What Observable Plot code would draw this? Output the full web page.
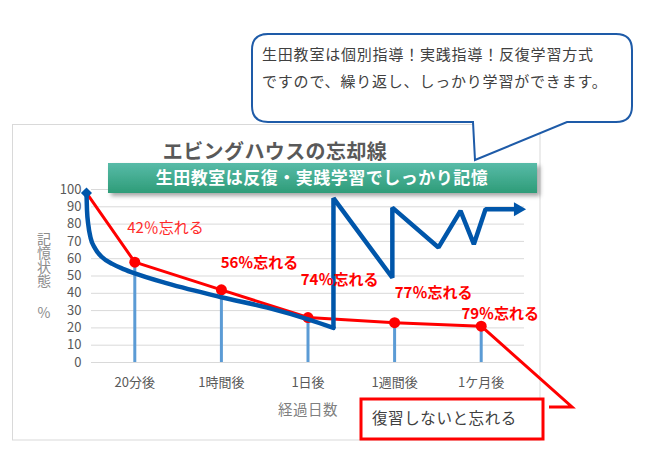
<!DOCTYPE html>
<html><head><meta charset="utf-8">
<script src="https://cdn.jsdelivr.net/npm/d3@7"></script>
<script src="https://cdn.jsdelivr.net/npm/@observablehq/plot@0.6"></script>
<style>body{margin:0;background:#fff;} #chart svg{display:block}</style>
</head><body><div id="chart"></div>
<script>
// ---- data ----
const categories = ["20分後", "1時間後", "1日後", "1週間後", "1ケ月後"];
const categoryX = [1, 2, 3, 4, 5];
const retention = [58, 42, 26, 23, 21];
const startX = 0.442, startValue = 98;
const forgetLabels = ["42％忘れる", "56％忘れる", "74％忘れる", "77％忘れる", "79％忘れる"];
const labelX = [1.354, 2.44, 3.364, 4.45, 5.22];
const labelY = [77.8, 57.6, 47.3, 39.8, 28.2];
const labelBold = [false, true, true, true, true];
// natural forgetting curve (blue)
const curveX = [0.442, 0.448, 0.462, 0.49, 0.54, 0.62, 0.74, 0.87, 1.0, 1.374, 2.011, 2.531, 3.011, 3.294];
const curveY = [98, 88, 80, 72, 66, 61, 57, 54, 51.5, 45.7, 37.6, 31.7, 24.8, 20];
// repeated review zigzag (blue)
const reviewX = [3.294, 3.294, 3.974, 3.974, 4.507, 4.761, 4.915, 5.05, 5.40];
const reviewY = [20, 95, 49, 89.5, 66.5, 87.6, 68.4, 88.6, 88.6];
const arrowX = 5.425, arrowY = 88.6;
const yTicks = d3.range(0, 101, 10);

const titleText = "エビングハウスの忘却線";
const bannerText = "生田教室は反復・実践学習でしっかり記憶";
const calloutLines = ["生田教室は個別指導！実践指導！反復学習方式", "ですので、繰り返し、しっかり学習ができます。"];
const yLabelText = "記憶状態";
const yLabelUnit = "%";
const xLabelText = "経過日数";
const noReviewText = "復習しないと忘れる";

// ---- styles ----
const font = "'Noto Sans CJK JP', 'Noto Sans', sans-serif";
const blue = "#0056AA";
const red = "#FF0000";

const redData = [{x: startX, y: startValue}, ...categoryX.map((x, i) => ({x, y: retention[i]}))];
const pointData = categoryX.map((x, i) => ({x, y: retention[i]}));
const curveData = curveX.map((x, i) => ({x, y: curveY[i]}));
const reviewData = reviewX.map((x, i) => ({x, y: reviewY[i]}));
const labelData = forgetLabels.map((t, i) => ({t, x: labelX[i], y: labelY[i], b: labelBold[i]}));

const plot = Plot.plot({
  width: 650, height: 459,
  marginLeft: 91, marginRight: 126, marginTop: 189, marginBottom: 97,
  style: {fontFamily: font, background: "white", color: "#595959", overflow: "visible"},
  x: {domain: [0.5, 5.5]},
  y: {domain: [0, 100]},
  marks: [
    Plot.ruleY(yTicks, {stroke: "#D9D9D9", strokeWidth: 1}),
    Plot.axisY({ticks: yTicks, tickSize: 0, tickPadding: 10, fontSize: 13, label: null}),
    Plot.axisX({ticks: categoryX, tickFormat: d => categories[d - 1], tickSize: 0, tickPadding: 15, fontSize: 13, label: null}),
    Plot.ruleX(pointData, {x: "x", y1: 0, y2: "y", stroke: "#5B9BD5", strokeWidth: 3}),
    Plot.line(redData, {x: "x", y: "y", stroke: red, strokeWidth: 3}),
    Plot.dot(pointData, {x: "x", y: "y", r: 5.5, fill: red}),
    Plot.line(curveData, {x: "x", y: "y", stroke: blue, strokeWidth: 4.5, curve: "monotone-x"}),
    Plot.line(reviewData, {x: "x", y: "y", stroke: blue, strokeWidth: 4.5, strokeLinejoin: "miter", strokeLinecap: "butt"}),
    Plot.dot([{x: arrowX, y: arrowY}], {x: "x", y: "y", symbol: "triangle", rotate: 90, r: 5.2, fill: blue}),
    Plot.dot([{x: startX, y: startValue}], {x: "x", y: "y", symbol: "diamond2", r: 5, fill: blue}),
    Plot.text(labelData.filter(d => !d.b), {x: "x", y: "y", text: "t", fill: "#FF2A2A", fontSize: 15, fontWeight: "normal"}),
    Plot.text(labelData.filter(d => d.b), {x: "x", y: "y", text: "t", fill: red, fontSize: 15, fontWeight: "bold"})
  ]
});
document.getElementById("chart").append(plot);

const svg = d3.select(plot);
const sx = plot.scale("x"), sy = plot.scale("y");

// defs
const defs = svg.insert("defs", ":first-child");
const grad = defs.append("linearGradient").attr("id", "bannerGrad").attr("x1", 0).attr("y1", 0).attr("x2", 0).attr("y2", 1);
grad.append("stop").attr("offset", "0%").attr("stop-color", "#58BBA8");
grad.append("stop").attr("offset", "100%").attr("stop-color", "#2E9C78");
const filt = defs.append("filter").attr("id", "shadow").attr("x", "-5%").attr("y", "-30%").attr("width", "115%").attr("height", "170%");
filt.append("feDropShadow").attr("dx", 3).attr("dy", 3).attr("stdDeviation", 2).attr("flood-color", "#000").attr("flood-opacity", 0.35);

// chart frame (behind everything)
svg.insert("rect", "defs + *").attr("x", 12.5).attr("y", 124.5).attr("width", 527.5).attr("height", 315.5)
  .attr("fill", "none").attr("stroke", "#D9D9D9").attr("stroke-width", 1);

const layer = svg.append("g").attr("font-family", font).attr("text-anchor", "start");

// axis titles
layer.append("text").attr("x", 44).attr("y", 232).attr("fill", "#8C8C8C").attr("font-size", 14)
  .attr("text-anchor", "start").style("writing-mode", "vertical-rl").style("text-orientation", "upright").text(yLabelText);
layer.append("text").attr("x", 44).attr("y", 318).attr("fill", "#8C8C8C").attr("font-size", 14).attr("text-anchor", "middle").text(yLabelUnit);
layer.append("text").attr("x", 308).attr("y", 415).attr("fill", "#7F7F7F").attr("font-size", 14.5).attr("text-anchor", "middle").attr("letter-spacing", 0.5).text(xLabelText);

// title
layer.append("text").attr("x", 275).attr("y", 159).attr("fill", "#595959").attr("font-size", 20).attr("font-weight", "bold")
  .attr("text-anchor", "middle").attr("letter-spacing", 0.4).text(titleText);

// callout with tail
const L = 252, T = 34, R = 632, B = 122, rr = 16;
const calloutPath = `M${L + rr},${T} H${R - rr} Q${R},${T} ${R},${T + rr} V${B - rr} Q${R},${B} ${R - rr},${B} H567 L475,160 L473,${B} H${L + rr} Q${L},${B} ${L},${B - rr} V${T + rr} Q${L},${T} ${L + rr},${T} Z`;
layer.append("path").attr("d", calloutPath).attr("fill", "white").attr("stroke", "#1E5BA8").attr("stroke-width", 2);
calloutLines.forEach((line, i) => layer.append("text").attr("x", 262).attr("y", 60 + i * 27).attr("fill", "#404040")
  .attr("font-size", 15).attr("letter-spacing", 0.8).attr("text-anchor", "start").text(line));

// banner
layer.append("rect").attr("x", 108).attr("y", 163).attr("width", 429).attr("height", 30).attr("fill", "url(#bannerGrad)").attr("filter", "url(#shadow)");
layer.append("text").attr("x", 322).attr("y", 184).attr("fill", "white").attr("font-size", 17).attr("font-weight", "bold")
  .attr("text-anchor", "middle").attr("letter-spacing", 0.5).text(bannerText);

// "no review" tail and box
const px = sx.apply(categoryX[4]), py = sy.apply(retention[4]);
layer.append("path").attr("d", `M${px},${py} L572,407 L549,407`).attr("fill", "none").attr("stroke", red).attr("stroke-width", 3);
layer.append("rect").attr("x", 361).attr("y", 399).attr("width", 182).attr("height", 40).attr("fill", "white").attr("stroke", red).attr("stroke-width", 3);
layer.append("text").attr("x", 372).attr("y", 420).attr("fill", "#404040").attr("font-size", 15.5).attr("letter-spacing", 0.6)
  .attr("text-anchor", "start").attr("dominant-baseline", "middle").text(noReviewText);
</script>
</body></html>
